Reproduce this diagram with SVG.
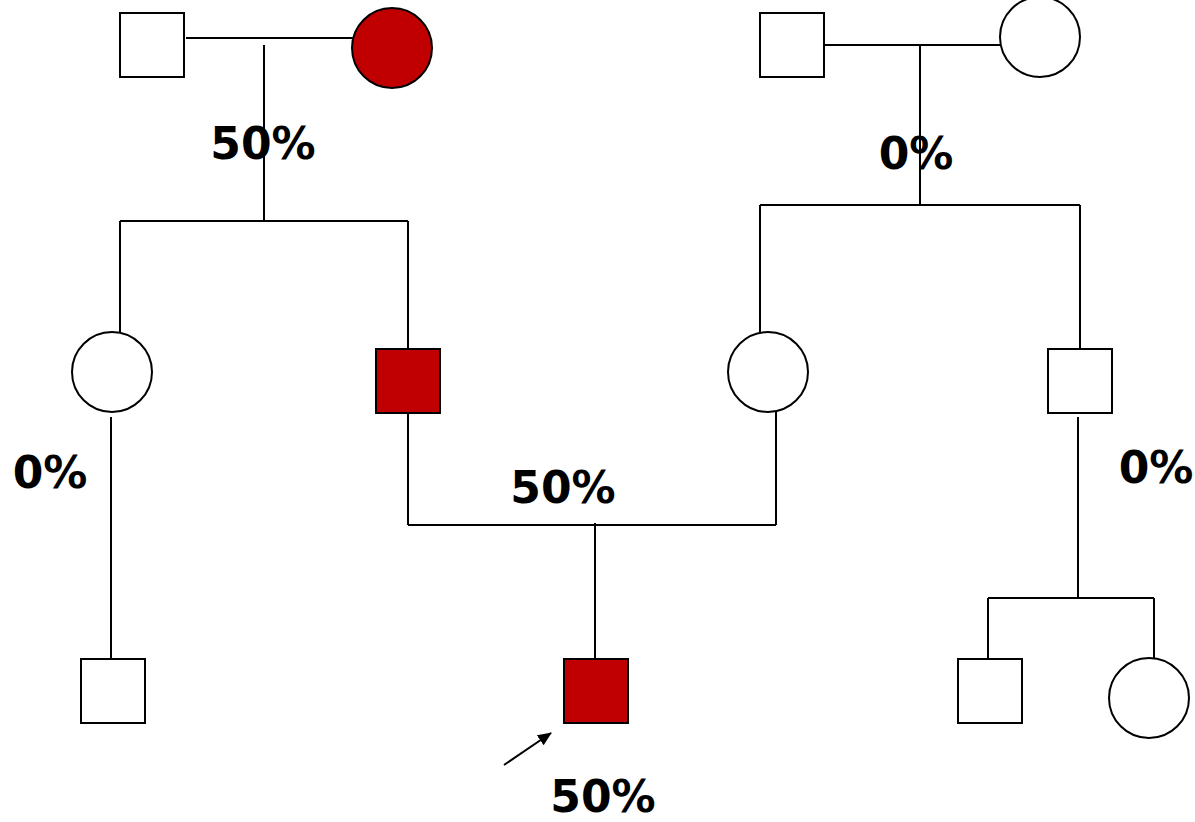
<svg xmlns="http://www.w3.org/2000/svg" width="1195" height="822" viewBox="0 0 1195 822">
<style>
.m{fill:#fff;stroke:#000;stroke-width:2}
.a{fill:#c00000;stroke:#000;stroke-width:2}
.c line{stroke:#000;stroke-width:2}
text{font-family:"Comic Sans MS","DejaVu Sans",sans-serif;font-weight:bold;font-size:44px;fill:#000;text-anchor:middle}
</style>
<defs>
<marker id="ah" markerWidth="14" markerHeight="12" refX="13" refY="6" orient="auto" markerUnits="userSpaceOnUse">
<path d="M0,0 L14,6 L0,12 Z" fill="#000"/>
</marker>
</defs>
<g id="connectors" class="c">
<line x1="186" y1="38" x2="353" y2="38"/>
<line x1="264" y1="45" x2="264" y2="221"/>
<line x1="120" y1="221" x2="408" y2="221"/>
<line x1="120" y1="221" x2="120" y2="332"/>
<line x1="408" y1="221" x2="408" y2="349"/>
<line x1="824" y1="45" x2="1000" y2="45"/>
<line x1="920" y1="45" x2="920" y2="205"/>
<line x1="760" y1="205" x2="1080" y2="205"/>
<line x1="760" y1="205" x2="760" y2="332"/>
<line x1="1080" y1="205" x2="1080" y2="349"/>
<line x1="408" y1="413" x2="408" y2="525"/>
<line x1="776" y1="412" x2="776" y2="525"/>
<line x1="408" y1="525" x2="776" y2="525"/>
<line x1="595" y1="523" x2="595" y2="659"/>
<line x1="111" y1="417" x2="111" y2="659"/>
<line x1="1078" y1="417" x2="1078" y2="598"/>
<line x1="988" y1="598" x2="1154" y2="598"/>
<line x1="988" y1="598" x2="988" y2="659"/>
<line x1="1154" y1="598" x2="1154" y2="659"/>
<line x1="504" y1="765" x2="551" y2="733" marker-end="url(#ah)"/>
</g>
<g id="gf1"><rect class="m" x="120" y="13" width="64" height="64"/></g>
<g id="gm1"><circle class="a" cx="392" cy="48" r="40"/></g>
<g id="gf2"><rect class="m" x="760" y="13" width="64" height="64"/></g>
<g id="gm2"><circle class="m" cx="1040" cy="37" r="40"/></g>
<g id="aunt"><circle class="m" cx="112" cy="372" r="40"/></g>
<g id="father"><rect class="a" x="376" y="349" width="64" height="64"/></g>
<g id="mother"><circle class="m" cx="768" cy="372" r="40"/></g>
<g id="uncle"><rect class="m" x="1048" y="349" width="64" height="64"/></g>
<g id="cousin1"><rect class="m" x="81" y="659" width="64" height="64"/></g>
<g id="proband"><rect class="a" x="564" y="659" width="64" height="64"/></g>
<g id="cousin2"><rect class="m" x="958" y="659" width="64" height="64"/></g>
<g id="cousin3"><circle class="m" cx="1149" cy="698" r="40"/></g>
<g id="labels">
<text x="263" y="159">50%</text>
<text x="916" y="169">0%</text>
<text x="50" y="488">0%</text>
<text x="563" y="503">50%</text>
<text x="1156" y="483">0%</text>
<text x="603" y="812">50%</text>
</g>
</svg>
